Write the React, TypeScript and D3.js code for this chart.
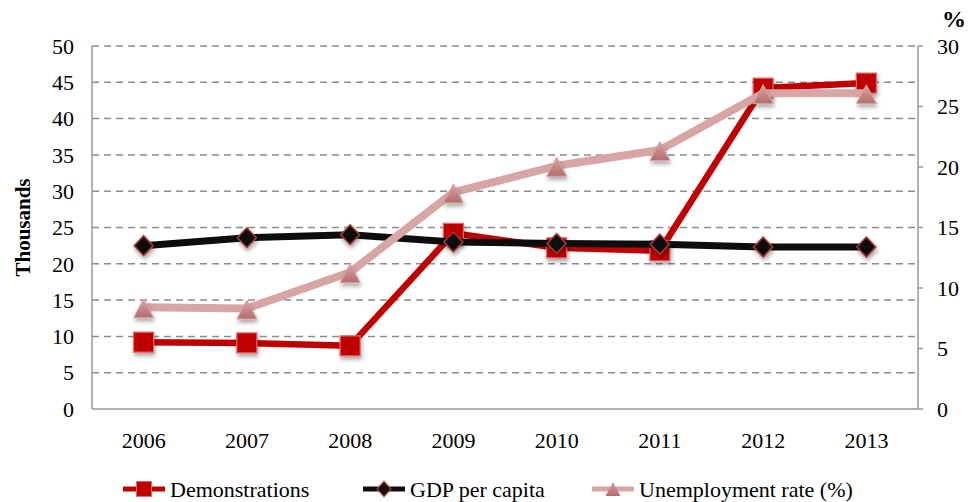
import React, { useEffect, useRef } from 'react';
import * as d3 from 'd3';

const years = ['2006', '2007', '2008', '2009', '2010', '2011', '2012', '2013'];
const demonstrations = [9.2, 9.1, 8.7, 24.2, 22.2, 21.8, 44.2, 44.9];
const gdpPerCapita = [22.5, 23.6, 24.0, 23.0, 22.8, 22.7, 22.3, 22.3];
const unemployment = [8.4, 8.3, 11.3, 17.9, 20.1, 21.4, 26.1, 26.1];
const leftTicks = [0, 5, 10, 15, 20, 25, 30, 35, 40, 45, 50];
const rightTicks = [0, 5, 10, 15, 20, 25, 30];

const FONT = "'Liberation Serif', 'Times New Roman', serif";

// custom marker shapes, centred on 0,0
const squarePath = (s: number) => `M${-s},${-s}H${s}V${s}H${-s}Z`;
const diamondPath = (w: number, h: number) => `M0,${-h}L${w},0L0,${h}L${-w},0Z`;
const trianglePath = (w: number, h: number) => `M0,${-h / 2}L${w},${h / 2}L${-w},${h / 2}Z`;

const App = () => {
  const ref = useRef<SVGSVGElement>(null);

  useEffect(() => {
    const W = 968, H = 502;
    const margin = { top: 46, right: 50, bottom: 93, left: 92 };
    const width = W - margin.left - margin.right;
    const height = H - margin.top - margin.bottom;

    const svg = d3.select(ref.current);
    svg.selectAll('*').remove();

    const defs = svg.append('defs');
    const f = defs.append('filter').attr('id', 'shadow')
      .attr('x', '-50%').attr('y', '-50%').attr('width', '200%').attr('height', '200%');
    f.append('feDropShadow').attr('dx', 1).attr('dy', 3).attr('stdDeviation', 2)
      .attr('flood-color', '#000').attr('flood-opacity', 0.35);
    const grad = defs.append('linearGradient').attr('id', 'tri')
      .attr('x1', 0).attr('y1', 0).attr('x2', 0).attr('y2', 1);
    grad.append('stop').attr('offset', '0%').attr('stop-color', '#d9a3a3');
    grad.append('stop').attr('offset', '100%').attr('stop-color', '#b56c6c');

    const g = svg.append('g').attr('transform', `translate(${margin.left},${margin.top})`);

    const x = d3.scaleBand().domain(years).range([0, width]).padding(0);
    const yL = d3.scaleLinear().domain([0, 50]).range([height, 0]);
    const yR = d3.scaleLinear().domain([0, 30]).range([height, 0]);
    const cx = (d: string) => (x(d) as number) + x.bandwidth() / 2;

    // gridlines
    g.selectAll('.grid').data(leftTicks.filter(t => t > 0)).enter().append('line')
      .attr('x1', 0).attr('x2', width)
      .attr('y1', d => yL(d)).attr('y2', d => yL(d))
      .attr('stroke', '#8c8c8c').attr('stroke-width', 1.5).attr('stroke-dasharray', '7,5');

    // axis lines
    const axisColor = '#999';
    g.append('line').attr('x1', 0).attr('x2', 0).attr('y1', 0).attr('y2', height)
      .attr('stroke', axisColor).attr('stroke-width', 1.5);
    g.append('line').attr('x1', 0).attr('x2', width).attr('y1', height).attr('y2', height)
      .attr('stroke', axisColor).attr('stroke-width', 1.5);
    g.append('line').attr('x1', width).attr('x2', width).attr('y1', 0).attr('y2', height)
      .attr('stroke', axisColor).attr('stroke-width', 1.5);
    g.selectAll('.rtick').data(rightTicks).enter().append('line')
      .attr('x1', width).attr('x2', width + 5)
      .attr('y1', d => yR(d)).attr('y2', d => yR(d))
      .attr('stroke', axisColor).attr('stroke-width', 1.5);

    // tick labels
    g.selectAll('.ltl').data(leftTicks).enter().append('text')
      .attr('x', -18).attr('y', d => yL(d)).attr('dy', '0.35em')
      .attr('text-anchor', 'end').attr('font-family', FONT).attr('font-size', 22)
      .text(d => d);
    g.selectAll('.rtl').data(rightTicks).enter().append('text')
      .attr('x', width + 19).attr('y', d => yR(d)).attr('dy', '0.35em')
      .attr('text-anchor', 'start').attr('font-family', FONT).attr('font-size', 22)
      .text(d => d);
    g.selectAll('.xtl').data(years).enter().append('text')
      .attr('x', d => cx(d)).attr('y', height + 39)
      .attr('text-anchor', 'middle').attr('font-family', FONT).attr('font-size', 22)
      .text(d => d);

    svg.append('text')
      .attr('transform', `translate(30,${margin.top + height / 2}) rotate(-90)`)
      .attr('text-anchor', 'middle').attr('font-family', FONT).attr('font-size', 21)
      .attr('font-weight', 'bold').text('Thousands');
    svg.append('text').attr('x', 954).attr('y', 27).attr('text-anchor', 'middle')
      .attr('font-family', FONT).attr('font-size', 24).attr('font-weight', 'bold').text('%');

    const line = (vals: number[], y: d3.ScaleLinear<number, number>) =>
      d3.line<number>().x((_, i) => cx(years[i])).y(v => y(v))(vals);

    // Demonstrations
    g.append('path').attr('d', line(demonstrations, yL)).attr('fill', 'none')
      .attr('stroke', '#c00000').attr('stroke-width', 6.5).attr('stroke-linejoin', 'round');
    g.selectAll('.dm').data(demonstrations).enter().append('path')
      .attr('d', squarePath(10)).attr('transform', (d, i) => `translate(${cx(years[i])},${yL(d)})`)
      .attr('fill', '#c00000').attr('stroke', '#dd6a6a').attr('stroke-width', 1.2)
      .attr('filter', 'url(#shadow)');

    // GDP per capita
    g.append('path').attr('d', line(gdpPerCapita, yL)).attr('fill', 'none')
      .attr('stroke', '#0d0d0d').attr('stroke-width', 7).attr('stroke-linejoin', 'round');
    g.selectAll('.gd').data(gdpPerCapita).enter().append('path')
      .attr('d', diamondPath(9.5, 10)).attr('transform', (d, i) => `translate(${cx(years[i])},${yL(d)})`)
      .attr('fill', '#111').attr('stroke', '#b03a3a').attr('stroke-width', 1.5)
      .attr('filter', 'url(#shadow)');

    // Unemployment rate
    g.append('path').attr('d', line(unemployment, yR)).attr('fill', 'none')
      .attr('stroke', '#d8a5a5').attr('stroke-width', 8).attr('stroke-linejoin', 'round');
    g.selectAll('.un').data(unemployment).enter().append('path')
      .attr('d', trianglePath(10, 19)).attr('transform', (d, i) => `translate(${cx(years[i])},${yR(d) + 1})`)
      .attr('fill', 'url(#tri)').attr('stroke', '#d8a5a5').attr('stroke-width', 1)
      .attr('filter', 'url(#shadow)');

    // legend
    const legend = [
      { label: 'Demonstrations', x: 123, color: '#c00000', mark: 'square' },
      { label: 'GDP per capita', x: 363, color: '#0d0d0d', mark: 'diamond' },
      { label: 'Unemployment rate (%)', x: 592, color: '#d8a5a5', mark: 'triangle' },
    ];
    const ly = 489;
    legend.forEach(l => {
      svg.append('line').attr('x1', l.x).attr('x2', l.x + 42).attr('y1', ly).attr('y2', ly)
        .attr('stroke', l.color).attr('stroke-width', 5);
      const m = svg.append('path').attr('transform', `translate(${l.x + 21},${ly})`);
      if (l.mark === 'square') m.attr('d', squarePath(7.5)).attr('fill', '#c00000').attr('stroke', '#dd6a6a');
      else if (l.mark === 'diamond') m.attr('d', diamondPath(7, 7.5)).attr('fill', '#111').attr('stroke', '#b03a3a').attr('stroke-width', 1.2);
      else m.attr('d', trianglePath(7.5, 14)).attr('fill', 'url(#tri)');
      svg.append('text').attr('x', l.x + 47).attr('y', ly).attr('dy', '0.35em')
        .attr('font-family', FONT).attr('font-size', 22).text(l.label);
    });
  }, []);

  return (
    <svg ref={ref} width={968} height={502} style={{ position: 'absolute', left: 0, top: 0, background: '#fff' }} />
  );
};

export default App;
